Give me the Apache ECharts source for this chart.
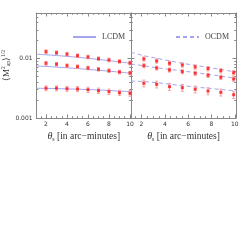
<!DOCTYPE html>
<html><head><meta charset="utf-8">
<script src="https://cdn.jsdelivr.net/npm/echarts@6/dist/echarts.min.js"></script>
<style>html,body{margin:0;padding:0;background:#fff}#c{width:249px;height:249px}</style>
</head><body><div id="c"></div>
<script>
// ---- data ----
const xPtsLeft = [2, 3, 4, 5, 6, 7, 8, 9, 10];
const xPtsRight = [2.2, 3.3, 4.4, 5.5, 6.6, 7.7, 8.8, 9.9];
const xCurveLeft = [1.1, 2, 3, 4, 5, 6, 7, 8, 9, 10.1];
const xCurveRight = [1.1, 2.2, 3.3, 4.4, 5.5, 6.6, 7.7, 8.8, 10.1];

const lcdmTop = [0.01178, 0.01153, 0.0112, 0.01084, 0.01047, 0.01007, 0.00962, 0.00919, 0.00874, 0.0083];
const lcdmMid = [0.00748, 0.00735, 0.00716, 0.00698, 0.00676, 0.00656, 0.00634, 0.00612, 0.00589, 0.00564];
const lcdmBot = [0.00316, 0.00314, 0.00312, 0.00308, 0.00305, 0.0030, 0.00296, 0.0029, 0.00283, 0.00277];
const ocdmTop = [0.0127, 0.01114, 0.01007, 0.00912, 0.0083, 0.00766, 0.00711, 0.00653, 0.00590];
const ocdmMid = [0.00809, 0.00753, 0.0070, 0.00656, 0.00617, 0.0058, 0.00542, 0.00505, 0.00463];
const ocdmBot = [0.00419, 0.00409, 0.00392, 0.0037, 0.00349, 0.00332, 0.00316, 0.00301, 0.00287];

const ptsLT = [0.0130, 0.0125, 0.01178, 0.01114, 0.01059, 0.00993, 0.00944, 0.00891, 0.00840];
const ptsLM = [0.0083, 0.0080, 0.00757, 0.00728, 0.00692, 0.00658, 0.00624, 0.00593, 0.0057];
const ptsLB = [0.00316, 0.00316, 0.0031, 0.00307, 0.00299, 0.00288, 0.00277, 0.00266, 0.0026];
const errLT = [0.0009, 0.00085, 0.0008, 0.00075, 0.0007, 0.00068, 0.00065, 0.0006, 0.00058];
const errLM = [0.0006, 0.00055, 0.00052, 0.0005, 0.00048, 0.00046, 0.00044, 0.00042, 0.0004];
const errLB = [0.0003, 0.0003, 0.0003, 0.0003, 0.0003, 0.0003, 0.00029, 0.00028, 0.00028];

const ptsRT = [0.00982, 0.00908, 0.0083, 0.00778, 0.0072, 0.00675, 0.00624, 0.00577];
const ptsRM = [0.00757, 0.00692, 0.00641, 0.0060, 0.00564, 0.00522, 0.00483, 0.00452];
const ptsRB = [0.00383, 0.00368, 0.00336, 0.00323, 0.00304, 0.00284, 0.0027, 0.00246];
const errRT = [0.0008, 0.00075, 0.0007, 0.00065, 0.0006, 0.00058, 0.00055, 0.0005];
const errRM = [0.0006, 0.00055, 0.0005, 0.00048, 0.00046, 0.00043, 0.0004, 0.00038];
const errRB = [0.0005, 0.00048, 0.00045, 0.00043, 0.0004, 0.00038, 0.00036, 0.00034];

const xLabels = [2, 4, 6, 8, 10];
const xMinorTicks = [1.5, 2.5, 3, 3.5, 4.5, 5, 5.5, 6.5, 7, 7.5, 8.5, 9, 9.5];
const yLabels = [0.001, 0.01];
const yMinorTicks = [0.002, 0.003, 0.004, 0.005, 0.006, 0.007, 0.008, 0.009, 0.02, 0.03, 0.04, 0.05];
const legendNames = ['LCDM', 'OCDM'];

// ---- styling / helpers ----
const axisColor = '#888';
const curveColor = '#a4a4f0';
const serif = 'Liberation Serif';
const X_MIN = 1.1, X_MAX = 10.1, Y_MIN = 0.001, Y_MAX = 0.058;

const grids = [
  {left: 27, top: 13, width: 104, height: 105},
  {left: 131, top: 13, width: 105, height: 105}
];

const xAxes = [], yAxes = [];
function addX(g, pos, major, showLabel, withName) {
  xAxes.push({
    type: 'value', gridIndex: g, min: X_MIN, max: X_MAX, position: pos,
    axisLine: {show: major, lineStyle: {color: axisColor, width: 1}},
    axisTick: {show: true, inside: true, length: major ? 3.5 : 1.8,
      customValues: major ? xLabels : xMinorTicks, lineStyle: {color: axisColor}},
    axisLabel: {show: showLabel, customValues: xLabels, fontSize: 6, margin: 3,
      color: '#333', fontFamily: 'DejaVu Sans'},
    splitLine: {show: false},
    name: withName ? '{i|θ}{s|s} [in arc\u2212minutes]' : '',
    nameLocation: 'middle', nameGap: 13,
    nameTextStyle: {fontFamily: serif, fontSize: 9.5, color: '#333',
      rich: {i: {fontFamily: serif, fontStyle: 'italic', fontSize: 10, color: '#333'},
             s: {fontFamily: serif, fontSize: 6, color: '#333', verticalAlign: 'bottom', padding: [5, 0, 0, 0]}}}
  });
  return xAxes.length - 1;
}
function addY(g, pos, major, showLabel, withName) {
  yAxes.push({
    type: 'log', logBase: 10, gridIndex: g, min: Y_MIN, max: Y_MAX, position: pos,
    axisLine: {show: major, lineStyle: {color: axisColor, width: 1}},
    axisTick: {show: true, inside: true, length: major ? 3.5 : 1.8,
      customValues: major ? yLabels : yMinorTicks, lineStyle: {color: axisColor}},
    axisLabel: {show: showLabel, customValues: yLabels, fontSize: 6, margin: 4,
      color: '#333', fontFamily: 'DejaVu Sans',
      formatter: v => (v < 0.005 ? '0.001' : '0.01')},
    splitLine: {show: false},
    name: withName ? '{t|\u27e8M}{p|2}{b|ap}{t|\u27e9}{p|1/2}' : '',
    nameLocation: 'middle', nameGap: 17, nameRotate: 90,
    nameTextStyle: {color: '#333',
      rich: {t: {fontFamily: serif, fontSize: 9, color: '#333'},
             p: {fontFamily: serif, fontSize: 5.5, color: '#333', padding: [0, 0, 5, 0]},
             b: {fontFamily: serif, fontSize: 5.5, color: '#333', padding: [4, 0, 0, 0]}}}
  });
  return yAxes.length - 1;
}

const axIdx = [];
for (let g = 0; g < 2; g++) {
  const xb = addX(g, 'bottom', true, true, true);
  addX(g, 'bottom', false, false, false);
  addX(g, 'top', true, false, false);
  addX(g, 'top', false, false, false);
  const yl = addY(g, 'left', true, g === 0, g === 0);
  addY(g, 'left', false, false, false);
  addY(g, 'right', true, false, false);
  addY(g, 'right', false, false, false);
  axIdx.push({x: xb, y: yl});
}

const zip = (xs, ys) => xs.map((x, i) => [x, ys[i]]);
const zipErr = (xs, ys, es) => xs.map((x, i) => [x, ys[i] - es[i], ys[i] + es[i]]);

const series = [];
function curve(g, name, xs, ys, dashed) {
  series.push({
    type: 'line', name: name, xAxisIndex: axIdx[g].x, yAxisIndex: axIdx[g].y,
    data: zip(xs, ys), smooth: 0.3, showSymbol: false, symbol: 'none', silent: true,
    color: curveColor,
    lineStyle: {color: curveColor, width: 1, type: dashed ? [4, 3] : 'solid'},
    z: 2
  });
}
function points(g, xs, ys, es) {
  series.push({
    type: 'custom', xAxisIndex: axIdx[g].x, yAxisIndex: axIdx[g].y,
    data: zipErr(xs, ys, es), silent: true, z: 3,
    renderItem: (params, api) => {
      const x = api.value(0);
      const p1 = api.coord([x, api.value(1)]);
      const p2 = api.coord([x, api.value(2)]);
      const w = 1.5, st = {stroke: '#f4a2a2', lineWidth: 1};
      return {type: 'group', children: [
        {type: 'line', shape: {x1: p1[0], y1: p1[1], x2: p2[0], y2: p2[1]}, style: st},
        {type: 'line', shape: {x1: p1[0] - w, y1: p1[1], x2: p1[0] + w, y2: p1[1]}, style: st},
        {type: 'line', shape: {x1: p2[0] - w, y1: p2[1], x2: p2[0] + w, y2: p2[1]}, style: st}
      ]};
    }
  });
  series.push({
    type: 'scatter', xAxisIndex: axIdx[g].x, yAxisIndex: axIdx[g].y,
    data: zip(xs, ys), symbol: 'rect', symbolSize: 3, silent: true, z: 4,
    itemStyle: {color: '#ff1010'}
  });
}

curve(0, legendNames[0], xCurveLeft, lcdmTop, false);
curve(0, legendNames[0], xCurveLeft, lcdmMid, false);
curve(0, legendNames[0], xCurveLeft, lcdmBot, false);
curve(1, legendNames[1], xCurveRight, ocdmTop, true);
curve(1, legendNames[1], xCurveRight, ocdmMid, true);
curve(1, legendNames[1], xCurveRight, ocdmBot, true);
points(0, xPtsLeft, ptsLT, errLT);
points(0, xPtsLeft, ptsLM, errLM);
points(0, xPtsLeft, ptsLB, errLB);
points(1, xPtsRight, ptsRT, errRT);
points(1, xPtsRight, ptsRM, errRM);
points(1, xPtsRight, ptsRB, errRB);

const legendStyle = {itemWidth: 23, itemHeight: 8, itemGap: 4, selectedMode: false,
  itemStyle: {opacity: 0},
  textStyle: {fontFamily: serif, fontSize: 8, color: '#444', padding: [0, 0, 0, 1]}, padding: 0};

const chart = echarts.init(document.getElementById('c'), null, {renderer: 'canvas'});
chart.setOption({
  animation: false,
  backgroundColor: '#fff',
  grid: grids,
  xAxis: xAxes,
  yAxis: yAxes,
  legend: [
    Object.assign({data: [legendNames[0]], left: 72, top: 33}, legendStyle),
    Object.assign({data: [legendNames[1]], left: 175, top: 33}, legendStyle)
  ],
  series: series
});
</script></body></html>
